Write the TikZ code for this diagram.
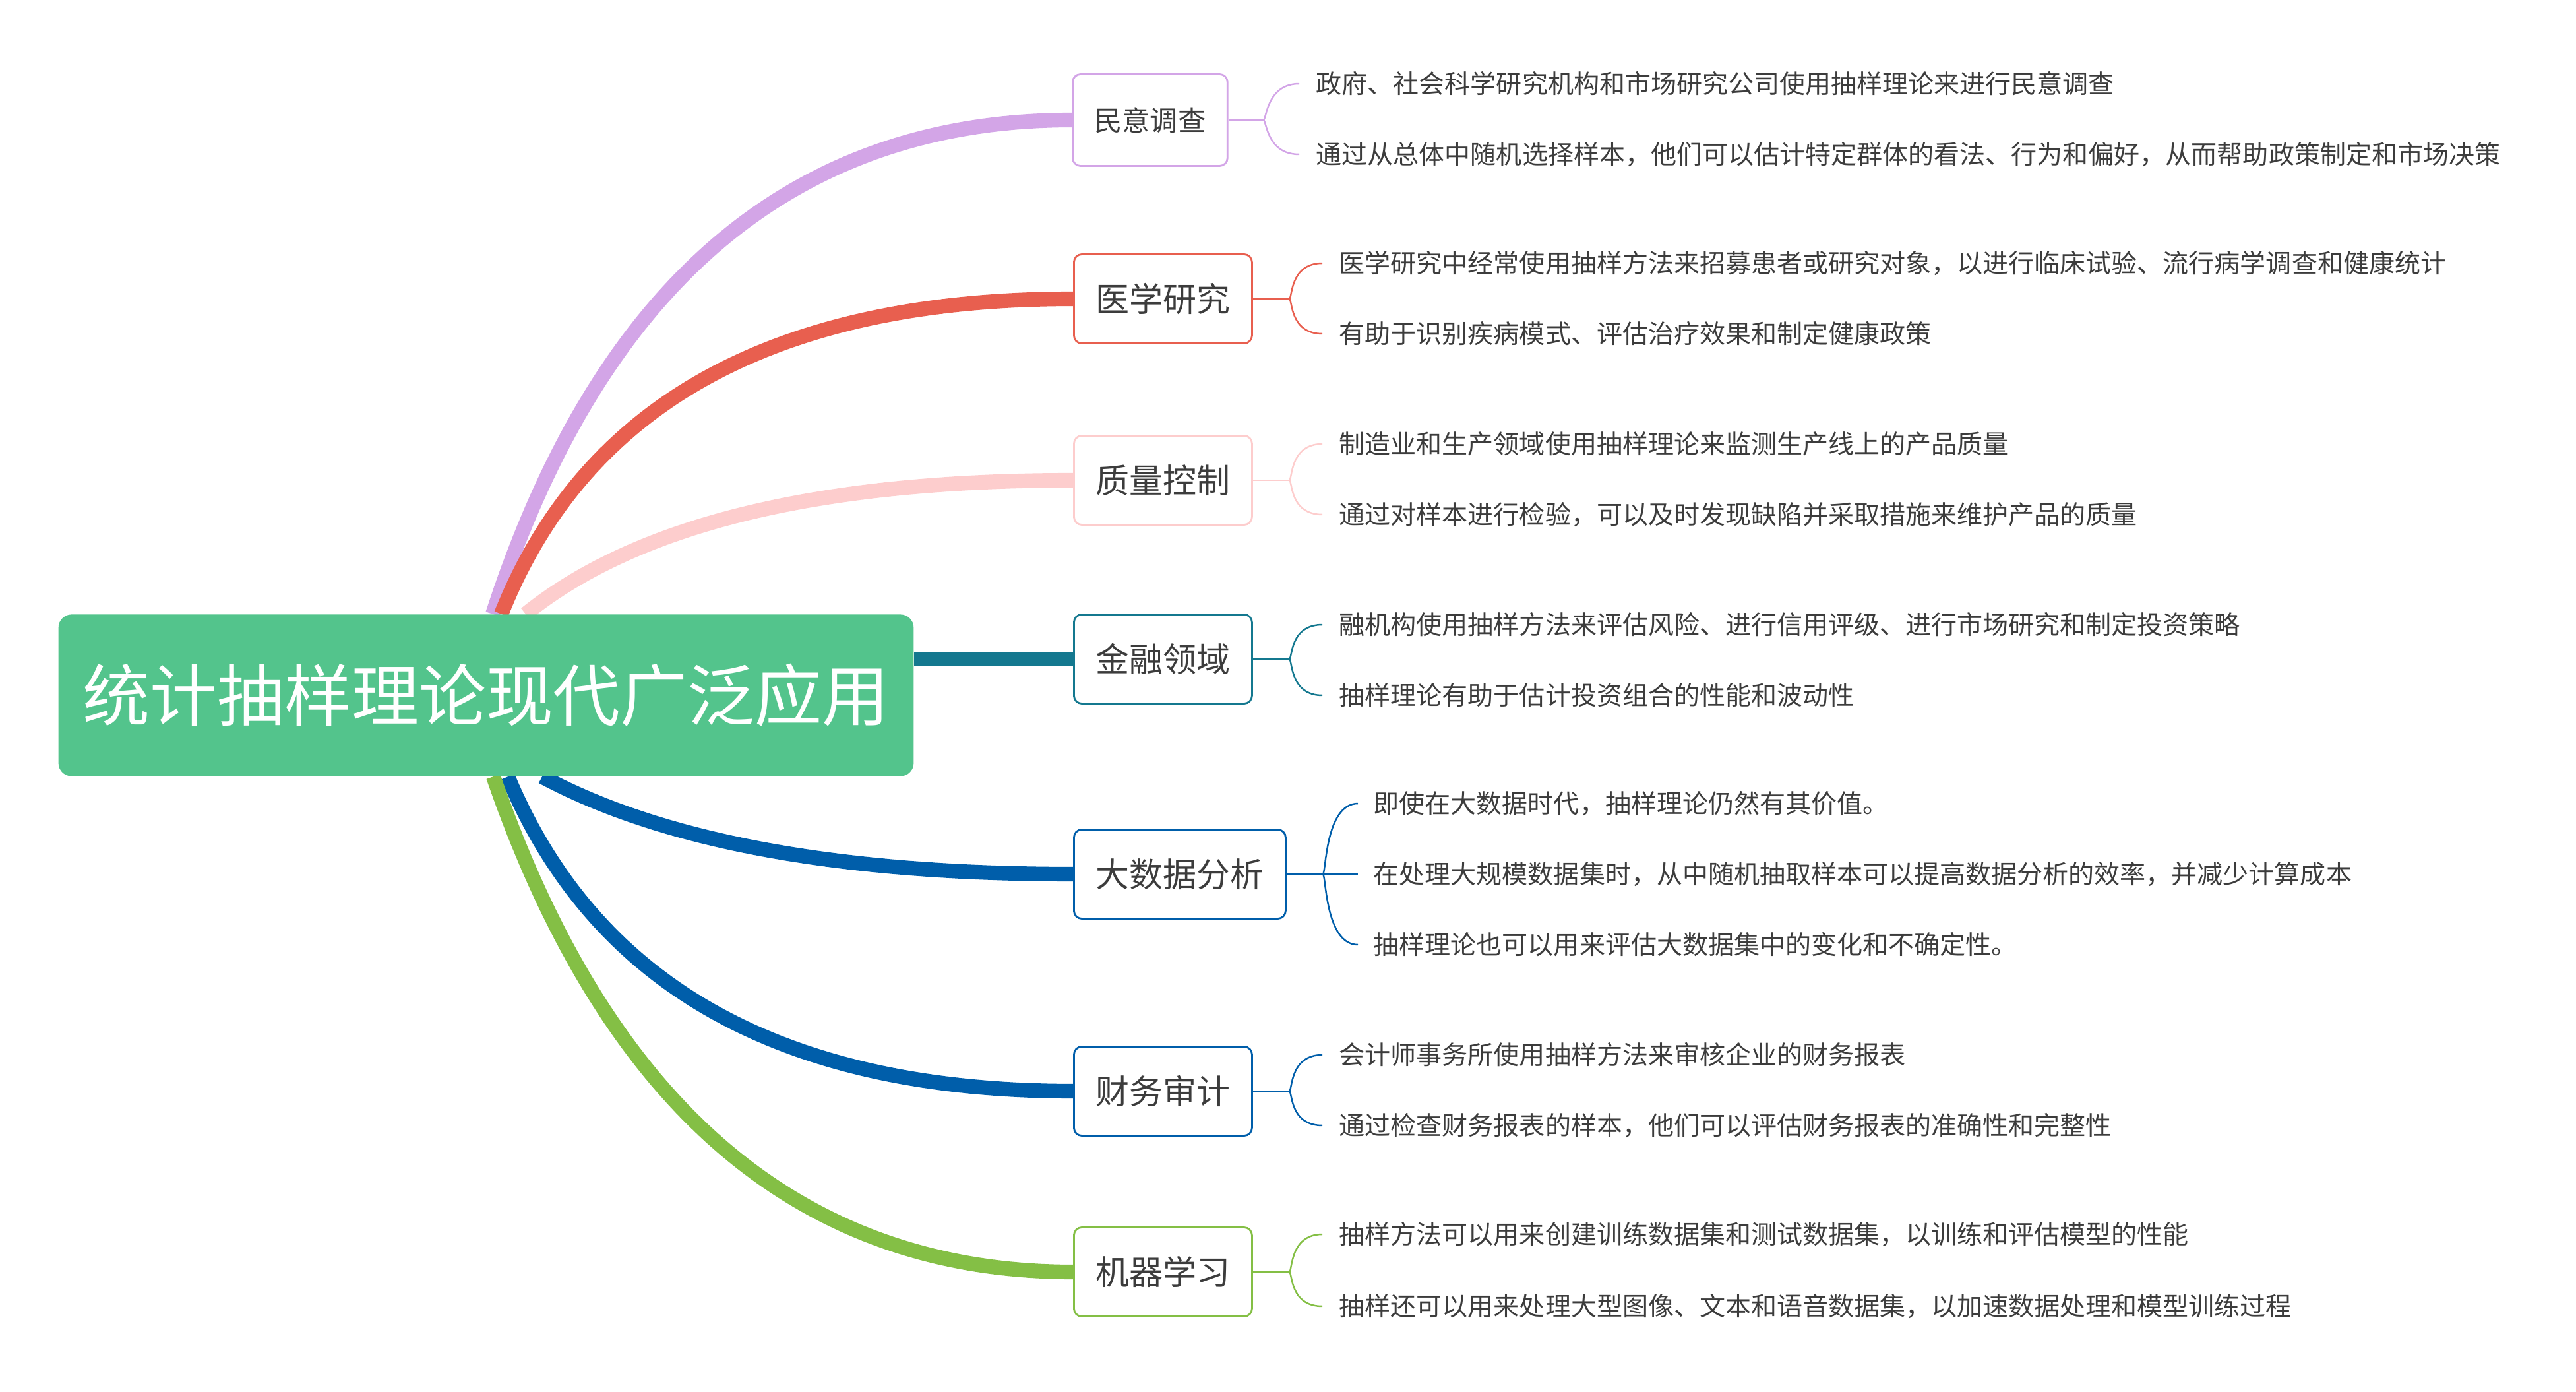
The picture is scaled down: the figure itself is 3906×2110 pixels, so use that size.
\documentclass[tikz,border=0pt]{standalone}
\usepackage{fontspec}
\newfontfamily\cjk{Noto Sans CJK SC}
\usepackage{tikz}
\usetikzlibrary{calc, backgrounds}
\definecolor{rootcolor}{HTML}{53C48C}
\definecolor{pollcolor}{HTML}{D3A5E7}
\definecolor{medcolor}{HTML}{E85F4F}
\definecolor{qualcolor}{HTML}{FDCDCD}
\definecolor{fincolor}{HTML}{14788F}
\definecolor{datacolor}{HTML}{005EAA}
\definecolor{mlcolor}{HTML}{84BF45}
\definecolor{inkcolor}{HTML}{3C3C3C}

\begin{document}
\begin{tikzpicture}[x=0.01cm, y=-0.01cm,
    root/.style={rectangle, rounded corners=0.2cm, fill=rootcolor, text=white, minimum width=12.96cm, minimum height=2.45cm, font=\cjk\fontsize{29pt}{34pt}\selectfont},
    topic/.style={rectangle, rounded corners=0.12cm, draw=#1, line width=0.8pt, fill=white, text=inkcolor, inner xsep=0.33cm, minimum height=1.35cm, anchor=west, font=\cjk\fontsize{14.5pt}{17pt}\selectfont},
    leaf/.style={anchor=west, inner sep=0pt, text=inkcolor, font=\cjk\fontsize{11.1pt}{13pt}\selectfont},
    branch/.style={draw=#1, line width=6.3pt},
    twig/.style={draw=#1, line width=0.7pt}
]
\useasboundingbox (0,0) rectangle (3906,2110);

% Central topic
\node[root] (root) at (737,1054) {统计抽样理论现代广泛应用};

% Main topics
\node[topic=pollcolor, font=\cjk\fontsize{12pt}{14pt}\selectfont, minimum height=1.39cm] (poll) at (1625,182) {民意调查};
\node[topic=medcolor] (med) at (1627,453) {医学研究};
\node[topic=qualcolor] (qual) at (1627,728) {质量控制};
\node[topic=fincolor] (fin) at (1627,999) {金融领域};
\node[topic=datacolor] (data) at (1627,1325) {大数据分析};
\node[topic=datacolor] (audit) at (1627,1654) {财务审计};
\node[topic=mlcolor] (ml) at (1627,1928) {机器学习};

% Branches, behind the central topic
\begin{scope}[on background layer]
\draw[branch=pollcolor] ($(root.north)+(10,0)$) .. controls +(162,-499) and +(-423,0) .. (poll.west);
\draw[branch=medcolor] ($(root.north)+(23,0)$) .. controls +(127,-319) and +(-451,0) .. (med.west);
\draw[branch=qualcolor] ($(root.north)+(60,0)$) .. controls +(169,-136) and +(-385,0) .. (qual.west);
\draw[branch=fincolor] (fin.west -| root.east) -- (fin.west);
\draw[branch=datacolor] ($(root.south)+(85,0)$) .. controls +(185,99) and +(-351,0) .. (data.west);
\draw[branch=datacolor] ($(root.south)+(33,0)$) .. controls +(133,318) and +(-438,0) .. (audit.west);
\draw[branch=mlcolor] ($(root.south)+(11,0)$) .. controls +(173,501) and +(-413,0) .. (ml.west);
\end{scope}

% Details
\node[leaf] (poll-1) at (1995,127) {政府、社会科学研究机构和市场研究公司使用抽样理论来进行民意调查};
\node[leaf] (poll-2) at (1995,234) {通过从总体中随机选择样本，他们可以估计特定群体的看法、行为和偏好，从而帮助政策制定和市场决策};
\node[leaf] (med-1) at (2030,399) {医学研究中经常使用抽样方法来招募患者或研究对象，以进行临床试验、流行病学调查和健康统计};
\node[leaf] (med-2) at (2030,506) {有助于识别疾病模式、评估治疗效果和制定健康政策};
\node[leaf] (qual-1) at (2030,673) {制造业和生产领域使用抽样理论来监测生产线上的产品质量};
\node[leaf] (qual-2) at (2030,780) {通过对样本进行检验，可以及时发现缺陷并采取措施来维护产品的质量};
\node[leaf] (fin-1) at (2030,947) {融机构使用抽样方法来评估风险、进行信用评级、进行市场研究和制定投资策略};
\node[leaf] (fin-2) at (2030,1054) {抽样理论有助于估计投资组合的性能和波动性};
\node[leaf] (data-1) at (2082,1218) {即使在大数据时代，抽样理论仍然有其价值。};
\node[leaf] (data-2) at (2082,1325) {在处理大规模数据集时，从中随机抽取样本可以提高数据分析的效率，并减少计算成本};
\node[leaf] (data-3) at (2082,1432) {抽样理论也可以用来评估大数据集中的变化和不确定性。};
\node[leaf] (audit-1) at (2030,1599) {会计师事务所使用抽样方法来审核企业的财务报表};
\node[leaf] (audit-2) at (2030,1706) {通过检查财务报表的样本，他们可以评估财务报表的准确性和完整性};
\node[leaf] (ml-1) at (2030,1871) {抽样方法可以用来创建训练数据集和测试数据集，以训练和评估模型的性能};
\node[leaf] (ml-2) at (2030,1980) {抽样还可以用来处理大型图像、文本和语音数据集，以加速数据处理和模型训练过程};

% Brackets to the details
\draw[twig=pollcolor] (poll.east) -- ++(53,0) coordinate (poll-j);
\draw[twig=pollcolor] (poll-j) .. controls +(5,0) and +(-50,0) .. ($(poll-1.west)+(-25,0)$);
\draw[twig=pollcolor] (poll-j) .. controls +(5,0) and +(-50,0) .. ($(poll-2.west)+(-25,0)$);

\draw[twig=medcolor] (med.east) -- ++(55,0) coordinate (med-j);
\draw[twig=medcolor] (med-j) .. controls +(5,0) and +(-50,0) .. ($(med-1.west)+(-25,0)$);
\draw[twig=medcolor] (med-j) .. controls +(5,0) and +(-50,0) .. ($(med-2.west)+(-25,0)$);

\draw[twig=qualcolor] (qual.east) -- ++(55,0) coordinate (qual-j);
\draw[twig=qualcolor] (qual-j) .. controls +(5,0) and +(-50,0) .. ($(qual-1.west)+(-25,0)$);
\draw[twig=qualcolor] (qual-j) .. controls +(5,0) and +(-50,0) .. ($(qual-2.west)+(-25,0)$);

\draw[twig=fincolor] (fin.east) -- ++(55,0) coordinate (fin-j);
\draw[twig=fincolor] (fin-j) .. controls +(5,0) and +(-50,0) .. ($(fin-1.west)+(-25,0)$);
\draw[twig=fincolor] (fin-j) .. controls +(5,0) and +(-50,0) .. ($(fin-2.west)+(-25,0)$);

\draw[twig=datacolor] (data.east) -- ++(55,0) coordinate (data-j);
\draw[twig=datacolor] (data-j) .. controls +(5,0) and +(-50,0) .. ($(data-1.west)+(-23,0)$);
\draw[twig=datacolor] (data-j) -- ($(data-2.west)+(-23,0)$);
\draw[twig=datacolor] (data-j) .. controls +(5,0) and +(-50,0) .. ($(data-3.west)+(-23,0)$);

\draw[twig=datacolor] (audit.east) -- ++(55,0) coordinate (audit-j);
\draw[twig=datacolor] (audit-j) .. controls +(5,0) and +(-50,0) .. ($(audit-1.west)+(-25,0)$);
\draw[twig=datacolor] (audit-j) .. controls +(5,0) and +(-50,0) .. ($(audit-2.west)+(-25,0)$);

\draw[twig=mlcolor] (ml.east) -- ++(55,0) coordinate (ml-j);
\draw[twig=mlcolor] (ml-j) .. controls +(5,0) and +(-50,0) .. ($(ml-1.west)+(-25,0)$);
\draw[twig=mlcolor] (ml-j) .. controls +(5,0) and +(-50,0) .. ($(ml-2.west)+(-25,0)$);
\end{tikzpicture}
\end{document}
